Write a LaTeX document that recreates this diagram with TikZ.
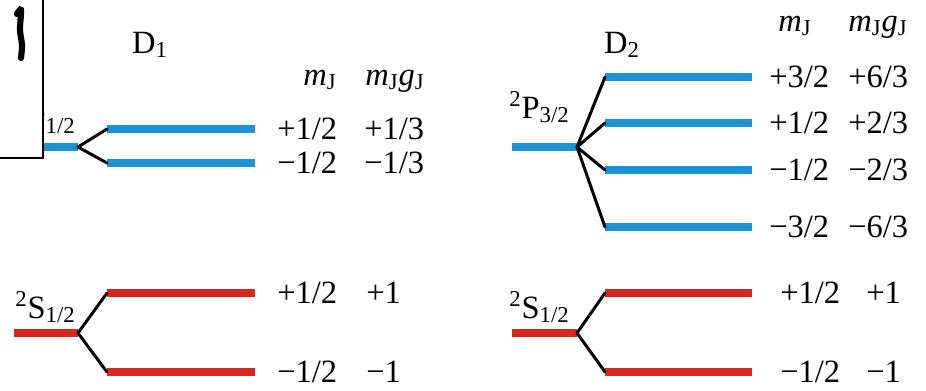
\documentclass[tikz,border=0pt]{standalone}
\usepackage{fontspec}
\setmainfont{Liberation Serif}
\definecolor{levelblue}{RGB}{28,146,214}
\definecolor{levelred}{RGB}{214,40,30}
\tikzset{
  plevel/.style={line width=4pt, levelblue},
  slevel/.style={line width=4pt, levelred},
  branch/.style={line width=1.7pt, black, line cap=round},
  lab/.style={font=\fontsize{18.5}{20}\selectfont, inner sep=0pt},
}
\newcommand{\mjay}{\textit{m}\textsubscript{J}}
\newcommand{\gjay}{\textit{g}\textsubscript{J}}

\begin{document}
\begin{tikzpicture}[x=0.02cm, y=-0.02cm]
    \useasboundingbox (0,0) rectangle (926,390);

    % D1 title and column heads
    \node[lab] (d1) at (150,45) {D\textsubscript{1}};
    \node[lab, anchor=base west] (d1mj) at (303,85) {\mjay};
    \node[lab, anchor=base west] (d1mg) at (365,85) {\mjay\gjay};

    % D1: 2P1/2 splitting
    \node[lab, anchor=base east] (p1lab) at (76,129) {\textsuperscript{2}P\textsubscript{1/2}};
    \coordinate (p1a) at (0,147);
    \coordinate (p1) at (78,147);
    \draw[plevel] (p1a) -- (p1);
    \foreach \n/\yy/\mval/\gval in {u/129/{+1/2}/{+1/3}, d/163/{−1/2}/{−1/3}} {
        \coordinate (p1\n) at (107,\yy);
        \coordinate (p1\n e) at (255,\yy);
        \draw[plevel] (p1\n) -- (p1\n e);
        \draw[branch] (p1) -- (p1\n);
        \node[lab, anchor=west] (p1\n m) at (277,\yy) {\mval};
        \node[lab, anchor=west] (p1\n g) at (364,\yy) {\gval};
    }

    % D1: 2S1/2 splitting
    \node[lab, anchor=base east] (s1lab) at (76,318) {\textsuperscript{2}S\textsubscript{1/2}};
    \coordinate (s1a) at (14,333);
    \coordinate (s1) at (78,333);
    \draw[slevel] (s1a) -- (s1);
    \foreach \n/\yy/\mval/\gval in {u/293/{+1/2}/{+1}, d/372/{−1/2}/{−1}} {
        \coordinate (s1\n) at (107,\yy);
        \coordinate (s1\n e) at (255,\yy);
        \draw[slevel] (s1\n) -- (s1\n e);
        \draw[branch] (s1) -- (s1\n);
        \node[lab, anchor=west] (s1\n m) at (277,\yy) {\mval};
        \node[lab, anchor=west] (s1\n g) at (366,\yy) {\gval};
    }

    % D2 title and column heads
    \node[lab] (d2) at (622,45) {D\textsubscript{2}};
    \node[lab, anchor=base west] (d2mj) at (778,31) {\mjay};
    \node[lab, anchor=base west] (d2mg) at (848,31) {\mjay\gjay};

    % D2: 2P3/2 splitting
    \node[lab, anchor=base east] (p2lab) at (570,118) {\textsuperscript{2}P\textsubscript{3/2}};
    \coordinate (p2a) at (512,147);
    \coordinate (p2) at (577,147);
    \draw[plevel] (p2a) -- (p2);
    \foreach \n/\yy/\mval/\gval in {a/77/{+3/2}/{+6/3}, b/123/{+1/2}/{+2/3},
                                    c/170/{−1/2}/{−2/3}, d/227/{−3/2}/{−6/3}} {
        \coordinate (p2\n) at (605,\yy);
        \coordinate (p2\n e) at (752,\yy);
        \draw[plevel] (p2\n) -- (p2\n e);
        \draw[branch] (p2) -- (p2\n);
        \node[lab, anchor=west] (p2\n m) at (769,\yy) {\mval};
        \node[lab, anchor=west] (p2\n g) at (848,\yy) {\gval};
    }

    % D2: 2S1/2 splitting
    \node[lab, anchor=base east] (s2lab) at (570,318) {\textsuperscript{2}S\textsubscript{1/2}};
    \coordinate (s2a) at (512,333);
    \coordinate (s2) at (577,333);
    \draw[slevel] (s2a) -- (s2);
    \foreach \n/\yy/\mval/\gval in {u/293/{+1/2}/{+1}, d/372/{−1/2}/{−1}} {
        \coordinate (s2\n) at (605,\yy);
        \coordinate (s2\n e) at (752,\yy);
        \draw[slevel] (s2\n) -- (s2\n e);
        \draw[branch] (s2) -- (s2\n);
        \node[lab, anchor=west] (s2\n m) at (780,\yy) {\mval};
        \node[lab, anchor=west] (s2\n g) at (866,\yy) {\gval};
    }

    % Cut-off panel at top left
    \draw[fill=white, line width=0.8pt] (-10,-10) rectangle (43,158);
    \draw[line width=3.5pt, line cap=round] plot[smooth] coordinates {
        (17,14) (21,10) (20,30) (22,45) (21,58)
    };
\end{tikzpicture}
\end{document}
